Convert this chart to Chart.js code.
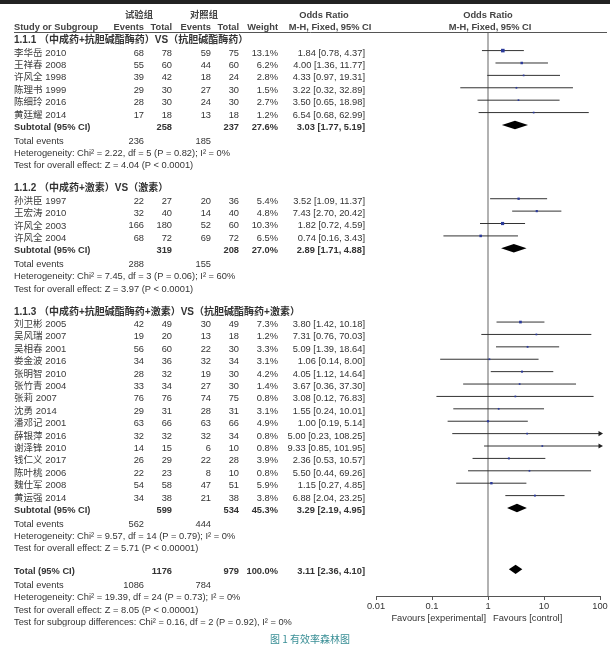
<!DOCTYPE html>
<html>
<head>
<meta charset="utf-8">
<script src="https://cdn.jsdelivr.net/npm/chart.js@4.4.0/dist/chart.umd.min.js"></script>
<style>
  html, body { margin: 0; padding: 0; background: #fff; }
  #wrap { width: 610px; height: 648px; position: relative; }
</style>
</head>
<body>
<div id="wrap"><canvas id="forest"></canvas></div>
<script>
// ---- data ----
var groupTitles = [
    "1.1.1 （中成药+抗胆碱酯酶药）VS（抗胆碱酯酶药）",
    "1.1.2 （中成药+激素）VS（激素）",
    "1.1.3 （中成药+抗胆碱酯酶药+激素）VS（抗胆碱酯酶药+激素）"
];

var names1 = ["李华岳 2010", "王祥春 2008", "许风全 1998", "陈理书 1999", "陈细玲 2016", "黄廷耀 2014"];
var expEvents1 = [68, 55, 39, 29, 28, 17];
var expTotal1 = [78, 60, 42, 30, 30, 18];
var ctrlEvents1 = [59, 44, 18, 27, 24, 13];
var ctrlTotal1 = [75, 60, 24, 30, 30, 18];
var weight1 = [13.1, 6.2, 2.8, 1.5, 2.7, 1.2];
var or1 = [1.84, 4.00, 4.33, 3.22, 3.50, 6.54];
var lo1 = [0.78, 1.36, 0.97, 0.32, 0.65, 0.68];
var hi1 = [4.37, 11.77, 19.31, 32.89, 18.98, 62.99];

var names2 = ["孙洪臣 1997", "王宏涛 2010", "许风全 2003", "许风全 2004"];
var expEvents2 = [22, 32, 166, 68];
var expTotal2 = [27, 40, 180, 72];
var ctrlEvents2 = [20, 14, 52, 69];
var ctrlTotal2 = [36, 40, 60, 72];
var weight2 = [5.4, 4.8, 10.3, 6.5];
var or2 = [3.52, 7.43, 1.82, 0.74];
var lo2 = [1.09, 2.70, 0.72, 0.16];
var hi2 = [11.37, 20.42, 4.59, 3.43];

var names3 = ["刘卫彬 2005", "吴风瑞 2007", "吴相春 2001", "娄金波 2016", "张明智 2010", "张竹青 2004", "张莉 2007",
    "沈勇 2014", "潘邓记 2001", "薛银萍 2016", "谢泽锋 2010", "钱仁义 2017", "陈叶桃 2006", "魏仕军 2008", "黄运强 2014"];
var expEvents3 = [42, 19, 56, 34, 28, 33, 76, 29, 63, 32, 14, 26, 22, 54, 34];
var expTotal3 = [49, 20, 60, 36, 32, 34, 76, 31, 66, 32, 15, 29, 23, 58, 38];
var ctrlEvents3 = [30, 13, 22, 32, 19, 27, 74, 28, 63, 32, 6, 22, 8, 47, 21];
var ctrlTotal3 = [49, 18, 30, 34, 30, 30, 75, 31, 66, 34, 10, 28, 10, 51, 38];
var weight3 = [7.3, 1.2, 3.3, 3.1, 4.2, 1.4, 0.8, 3.1, 4.9, 0.8, 0.8, 3.9, 0.8, 5.9, 3.8];
var or3 = [3.80, 7.31, 5.09, 1.06, 4.05, 3.67, 3.08, 1.55, 1.00, 5.00, 9.33, 2.36, 5.50, 1.15, 6.88];
var lo3 = [1.42, 0.76, 1.39, 0.14, 1.12, 0.36, 0.12, 0.24, 0.19, 0.23, 0.85, 0.53, 0.44, 0.27, 2.04];
var hi3 = [10.18, 70.03, 18.64, 8.00, 14.64, 37.30, 76.83, 10.01, 5.14, 108.25, 101.95, 10.57, 69.26, 4.85, 23.25];

var subOR = [3.03, 2.89, 3.29];
var subLo = [1.77, 1.71, 2.19];
var subHi = [5.19, 4.88, 4.95];
var subExpTotal = [258, 319, 599];
var subCtrlTotal = [237, 208, 534];
var subWeight = [27.6, 27.0, 45.3];
var subExpEvents = [236, 288, 562];
var subCtrlEvents = [185, 155, 444];
var subHet = ["Chi² = 2.22, df = 5 (P = 0.82); I² = 0%",
    "Chi² = 7.45, df = 3 (P = 0.06); I² = 60%",
    "Chi² = 9.57, df = 14 (P = 0.79); I² = 0%"];
var subZ = ["Z = 4.04 (P < 0.0001)", "Z = 3.97 (P < 0.0001)", "Z = 5.71 (P < 0.00001)"];

var totalOR = 3.11, totalLo = 2.36, totalHi = 4.10;
var totalExpTotal = 1176, totalCtrlTotal = 979, totalWeight = 100.0;
var totalExpEvents = 1086, totalCtrlEvents = 784;
var totalHet = "Chi² = 19.39, df = 24 (P = 0.73); I² = 0%";
var totalZ = "Z = 8.05 (P < 0.00001)";
var subgroupDiff = "Chi² = 0.16, df = 2 (P = 0.92), I² = 0%";

var xTicks = [0.01, 0.1, 1, 10, 100];
var caption = "图 1 有效率森林图";

// ---- build rows ----
var groups = [
    { names: names1, ee: expEvents1, et: expTotal1, ce: ctrlEvents1, ct: ctrlTotal1, w: weight1, or: or1, lo: lo1, hi: hi1 },
    { names: names2, ee: expEvents2, et: expTotal2, ce: ctrlEvents2, ct: ctrlTotal2, w: weight2, or: or2, lo: lo2, hi: hi2 },
    { names: names3, ee: expEvents3, et: expTotal3, ce: ctrlEvents3, ct: ctrlTotal3, w: weight3, or: or3, lo: lo3, hi: hi3 }
];

var studies = [];   // {r, name, ee, et, ce, ct, w, or, lo, hi}
var summaries = []; // {r, or, lo, hi, total}
var textRows = [];  // misc lines
var r = 0;
groups.forEach(function(g, gi) {
    if (gi > 0) r += 1.85;
    textRows.push({ r: r, kind: "title", text: groupTitles[gi] });
    g.names.forEach(function(n, i) {
        r += 1;
        studies.push({ r: r, name: n, ee: g.ee[i], et: g.et[i], ce: g.ce[i], ct: g.ct[i], w: g.w[i], or: g.or[i], lo: g.lo[i], hi: g.hi[i] });
    });
    r += 1;
    summaries.push({ r: r, or: subOR[gi], lo: subLo[gi], hi: subHi[gi], et: subExpTotal[gi], ct: subCtrlTotal[gi], w: subWeight[gi], label: "Subtotal (95% CI)" });
    r += 1.1;
    textRows.push({ r: r, kind: "events", ee: subExpEvents[gi], ce: subCtrlEvents[gi] });
    r += 1;
    textRows.push({ r: r, kind: "plain", text: "Heterogeneity: " + subHet[gi] });
    r += 1;
    textRows.push({ r: r, kind: "plain", text: "Test for overall effect: " + subZ[gi] });
});
r += 1.85;
summaries.push({ r: r, or: totalOR, lo: totalLo, hi: totalHi, et: totalExpTotal, ct: totalCtrlTotal, w: totalWeight, label: "Total (95% CI)", total: true });
r += 1.1;
textRows.push({ r: r, kind: "events", ee: totalExpEvents, ce: totalCtrlEvents });
r += 1;
textRows.push({ r: r, kind: "plain", text: "Heterogeneity: " + totalHet });
r += 1;
textRows.push({ r: r, kind: "plain", text: "Test for overall effect: " + totalZ });
r += 1;
textRows.push({ r: r, kind: "plain", text: "Test for subgroup differences: " + subgroupDiff });

// ---- datasets ----
var datasets = [];
studies.forEach(function(s) {
    datasets.push({
        data: [{ x: s.lo, y: s.r }, { x: Math.min(s.hi, 100), y: s.r }],
        showLine: true, borderColor: "#333", borderWidth: 1, pointRadius: 0, order: 5, clip: false
    });
});
datasets.push({
    data: studies.map(function(s) { return { x: s.or, y: s.r }; }),
    pointStyle: "rect",
    pointRadius: studies.map(function(s) { return Math.max(1.2, Math.sqrt(s.w) * 0.7); }),
    backgroundColor: "#2b3a9a", borderWidth: 0, order: 1
});
datasets.push({
    data: studies.filter(function(s) { return s.hi > 100; }).map(function(s) { return { x: 100, y: s.r }; }),
    pointStyle: "triangle", rotation: 90, pointRadius: 3,
    backgroundColor: "#222", borderWidth: 0, order: 1, clip: false
});
datasets.push({
    data: [{ x: 1, y: -0.5 }, { x: 1, y: 45 }],
    showLine: true, borderColor: "#999", borderWidth: 1.5, pointRadius: 0, order: 10
});

// ---- drawing of the table and diamonds ----
var FONT = '"Liberation Sans", Arial, "Noto Sans CJK SC", sans-serif';
var C_EE = 144, C_ET = 172, C_CE = 211, C_CT = 239, C_W = 278, C_OR = 365, C_LEFT = 14;

function fmtCI(o, l, h) {
    return o.toFixed(2) + " [" + l.toFixed(2) + ", " + h.toFixed(2) + "]";
}

var forestPlugin = {
    id: "forestTable",
    afterDatasetsDraw: function(chart) {
        var ctx = chart.ctx, xs = chart.scales.x, ys = chart.scales.y;
        ctx.save();
        ctx.fillStyle = "#000";
        summaries.forEach(function(s) {
            var h = s.total ? 4.6 : 4.2;
            var py = ys.getPixelForValue(s.r);
            ctx.beginPath();
            ctx.moveTo(xs.getPixelForValue(s.lo), py);
            ctx.lineTo(xs.getPixelForValue(s.or), py - h);
            ctx.lineTo(xs.getPixelForValue(s.hi), py);
            ctx.lineTo(xs.getPixelForValue(s.or), py + h);
            ctx.closePath();
            ctx.fill();
        });
        ctx.restore();
    },
    afterDraw: function(chart) {
        var ctx = chart.ctx, xs = chart.scales.x, ys = chart.scales.y;
        function ty(v) { return ys.getPixelForValue(v) + 2.4; }
        function txt(s, x, y, align, bold, color, size) {
            ctx.font = (bold ? "bold " : "") + (size || 9.3) + "px " + FONT;
            ctx.fillStyle = color || "#333";
            ctx.textAlign = align || "left";
            ctx.textBaseline = "middle";
            ctx.fillText(String(s), x, y);
        }
        ctx.save();
        // top bar
        ctx.fillStyle = "#222";
        ctx.fillRect(0, 0, 610, 4);

        // header
        var h1 = 15, h2 = 27;
        txt("试验组", 139, h1, "center", true, "#444");
        txt("对照组", 204, h1, "center", true, "#444");
        txt("Odds Ratio", 324, h1, "center", true, "#444");
        txt("Odds Ratio", xs.getPixelForValue(1), h1, "center", true, "#444");
        txt("Study or Subgroup", C_LEFT, h2, "left", true, "#444");
        txt("Events", C_EE, h2, "right", true, "#444");
        txt("Total", C_ET, h2, "right", true, "#444");
        txt("Events", C_CE, h2, "right", true, "#444");
        txt("Total", C_CT, h2, "right", true, "#444");
        txt("Weight", C_W, h2, "right", true, "#444");
        txt("M-H, Fixed, 95% CI", 330, h2, "center", true, "#444");
        txt("M-H, Fixed, 95% CI", xs.getPixelForValue(1) + 2, h2, "center", true, "#444");
        ctx.strokeStyle = "#555";
        ctx.lineWidth = 1;
        ctx.beginPath();
        ctx.moveTo(C_LEFT, 32.5);
        ctx.lineTo(607, 32.5);
        ctx.stroke();

        studies.forEach(function(s) {
            var y = ty(s.r);
            txt(s.name, C_LEFT, y, "left", false, "#3a3a3a", 9.5);
            txt(s.ee, C_EE, y, "right");
            txt(s.et, C_ET, y, "right");
            txt(s.ce, C_CE, y, "right");
            txt(s.ct, C_CT, y, "right");
            txt(s.w.toFixed(1) + "%", C_W, y, "right");
            txt(fmtCI(s.or, s.lo, s.hi), C_OR, y, "right");
        });
        summaries.forEach(function(s) {
            var y = ty(s.r);
            txt(s.label, C_LEFT, y, "left", true);
            txt(s.et, C_ET, y, "right", true);
            txt(s.ct, C_CT, y, "right", true);
            txt(s.w.toFixed(1) + "%", C_W, y, "right", true);
            txt(fmtCI(s.or, s.lo, s.hi), C_OR, y, "right", true);
        });
        textRows.forEach(function(t) {
            var y = ty(t.r);
            if (t.kind === "title") {
                txt(t.text, C_LEFT, y, "left", true, "#333", 10);
            } else if (t.kind === "events") {
                txt("Total events", C_LEFT, y);
                txt(t.ee, C_EE, y, "right");
                txt(t.ce, C_CE, y, "right");
            } else {
                txt(t.text, C_LEFT, y);
            }
        });

        // favours labels under the axis
        var p1 = xs.getPixelForValue(1);
        txt("Favours [experimental]", p1 - 2, 618, "right");
        txt("Favours [control]", p1 + 5, 618, "left");

        // the reference cuts the last line; caption below
        ctx.fillStyle = "#fff";
        ctx.fillRect(0, 626.5, 610, 22);
        ctx.font = "10px \"Noto Sans CJK SC\", sans-serif";
        ctx.fillStyle = "#3a8f96";
        ctx.textAlign = "left";
        ctx.textBaseline = "middle";
        ctx.fillText(caption, 270, 639);
        ctx.restore();
    }
};

new Chart(document.getElementById("forest"), {
    type: "scatter",
    data: { datasets: datasets },
    options: {
        responsive: true,
        maintainAspectRatio: false,
        animation: false,
        devicePixelRatio: 1,
        layout: { padding: { left: 376, right: 10, top: 32, bottom: 0 } },
        plugins: { legend: { display: false }, tooltip: { enabled: false } },
        scales: {
            x: {
                type: "logarithmic",
                min: 0.01,
                max: 100,
                afterBuildTicks: function(scale) {
                    scale.ticks = xTicks.map(function(v) { return { value: v }; });
                },
                afterFit: function(scale) { scale.height = 52; },
                ticks: {
                    autoSkip: false,
                    maxRotation: 0,
                    padding: 1,
                    color: "#333",
                    font: { family: FONT, size: 9.3 },
                    callback: function(v) { return String(v); }
                },
                grid: { drawOnChartArea: false, drawTicks: true, tickLength: 4, color: "#555" },
                border: { display: true, color: "#555", width: 1 }
            },
            y: {
                type: "linear",
                display: false,
                reverse: true,
                min: -0.5,
                max: 45
            }
        }
    },
    plugins: [forestPlugin]
});
</script>
</body>
</html>
